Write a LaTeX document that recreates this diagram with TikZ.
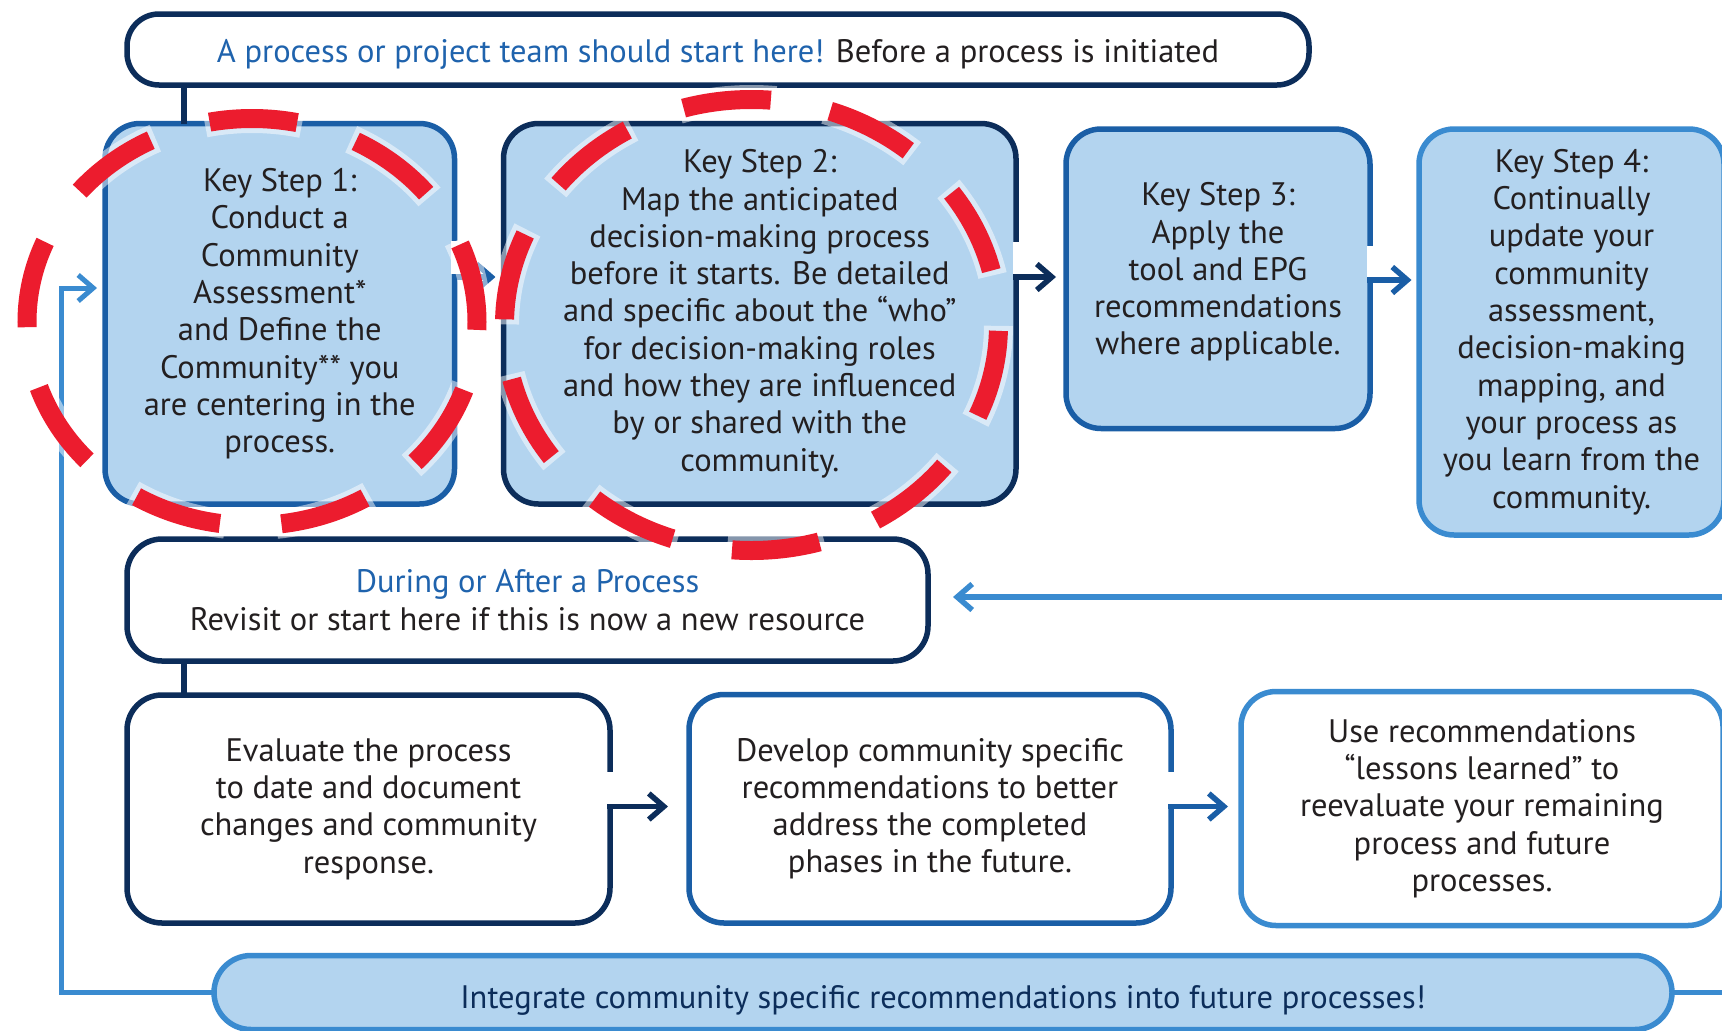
\documentclass[tikz,border=0pt]{standalone}
\usepackage{fontspec}
\setmainfont{PT Sans}
\usetikzlibrary{arrows.meta,calc}
\definecolor{navy}{HTML}{0C2D5A}
\definecolor{midblue}{HTML}{1A5EA6}
\definecolor{ltblue}{HTML}{3A8BD0}
\definecolor{fillblue}{HTML}{B3D4EF}
\definecolor{txtblue}{HTML}{1F63AD}
\definecolor{redc}{HTML}{EC1C2E}
\definecolor{txt}{HTML}{231F20}
\tikzset{
  box/.style={draw, line width=5.5pt, outer sep=0pt, rounded corners=35pt, align=center, inner sep=0pt, text=txt, font=\fontsize{32.5}{37.3}\selectfont},
  keybox/.style={box, fill=fillblue},
  plainbox/.style={box, fill=white},
  arr/.style={line width=5.5pt, -{Straight Barb[length=15pt,width=26pt]}, shorten <=-2.75pt},
  gapw/.style={white, line width=7pt},
  link/.style={line width=5.5pt},
  halo/.style={white, opacity=0.5, line width=29pt},
  reddash/.style={redc, line width=19pt},
}
\begin{document}
\begin{tikzpicture}[x=1pt,y=-1pt]
\useasboundingbox (0,0) rectangle (1722,1031);
\clip (0,0) rectangle (1722,1031);
\fill[white] (0,0) rectangle (1722,1031);

% nodes
\node[plainbox, draw=navy, rounded corners=32pt, minimum width=1182pt, minimum height=71pt, text height=26.6pt, text depth=0pt] (top) at (718,49.5)
  {\textcolor{txtblue}{A process or project team should start here!} Before a process is initiated};
\node[keybox, draw=midblue, minimum width=349.5pt, minimum height=380.5pt] (k1) at (279.75,313.75)
  {Key Step 1:\\Conduct a\\Community\\Assessment*\\and Define the\\Community** you\\are centering in the\\process.};
\node[keybox, draw=navy, minimum width=512.5pt, minimum height=380.5pt] (k2) at (759.75,313.75)
  {Key Step 2:\\Map the anticipated\\decision-making process\\before it starts. Be detailed\\and specific about the “who”\\for decision-making roles\\and how they are influenced\\by or shared with the\\community.};
\node[keybox, draw=midblue, minimum width=304pt, minimum height=299.5pt, text depth=20pt] (k3) at (1218,278.75)
  {Key Step 3:\\Apply the\\tool and EPG\\recommendations\\where applicable.};
\node[keybox, draw=ltblue, minimum width=305pt, minimum height=406pt] (k4) at (1571.5,332)
  {Key Step 4:\\Continually\\update your\\community\\assessment,\\decision-making\\mapping, and\\your process as\\you learn from the\\community.};
\node[plainbox, draw=navy, minimum width=801pt, minimum height=122pt] (dur) at (527.5,600)
  {\textcolor{txtblue}{During or After a Process}\\Revisit or start here if this is now a new resource};
\node[plainbox, draw=navy, minimum width=483pt, minimum height=228pt] (ev) at (368.5,809)
  {Evaluate the process\\to date and document\\changes and community\\response.};
\node[plainbox, draw=midblue, minimum width=482pt, minimum height=228.5pt] (dev) at (930,808.75)
  {Develop community specific\\recommendations to better\\address the completed\\phases in the future.};
\node[plainbox, draw=ltblue, minimum width=482pt, minimum height=234pt] (use) at (1482,808.5)
  {Use recommendations\\“lessons learned” to\\reevaluate your remaining\\process and future\\processes.};
\node[keybox, draw=ltblue, rounded corners=37pt, minimum width=1458pt, minimum height=74pt, text=navy, text height=31pt, text depth=0pt] (integ) at (943,992.5)
  {Integrate community specific recommendations into future processes!};

% helper coordinates
\coordinate (vx) at (184,0);
\coordinate (fbx) at (61,0);
\coordinate (redge) at (1735,0);
\coordinate (rowA) at (0,277);
\coordinate (rowB) at (0,280);
\coordinate (rowC) at (0,806.5);
\coordinate (rowD) at (0,597);
\coordinate (rowF) at (0,288);

% vertical links
\draw[link, navy] (top.south -| vx) -- (k1.north -| vx);
\draw[link, navy] (dur.south -| vx) -- (ev.north -| vx);

% border gaps
\draw[gapw] (k1.east |- 0,241) -- (k1.east |- 0,274);
\draw[gapw] (k2.east |- 0,242) -- (k2.east |- 0,274);
\draw[gapw] (k3.east |- 0,246) -- (k3.east |- 0,277);
\draw[gapw] (ev.east |- 0,772) -- (ev.east |- 0,803.5);
\draw[gapw] (dev.east |- 0,772) -- (dev.east |- 0,803.5);

% arrows
\draw[arr, midblue, shorten >=8pt] (k1.east |- rowA) -- (k2.west |- rowA);
\draw[arr, navy, shorten >=10pt] (k2.east |- rowA) -- (k3.west |- rowA);
\draw[arr, midblue, shorten >=7.5pt] (k3.east |- rowB) -- (k4.west |- rowB);
\draw[arr, navy, shorten >=21pt] (ev.east |- rowC) -- (dev.west |- rowC);
\draw[arr, midblue, shorten >=13pt] (dev.east |- rowC) -- (use.west |- rowC);
\draw[arr, ltblue, shorten <=0pt, shorten >=25pt] (redge |- rowD) -- (dur.east |- rowD);
\draw[arr, ltblue, line width=5pt, shorten <=0pt, shorten >=8pt] (integ.west) -| (fbx |- rowF) -- (k1.west |- rowF);
\draw[link, ltblue, line width=5pt] (integ.east) -- (integ.east -| redge);

% red dashed circles
\draw[halo, dash pattern=on 98pt off 51.7pt, dash phase=13pt] (252,322) ellipse [x radius=225pt, y radius=203.5pt];
\draw[reddash, dash pattern=on 88pt off 61.7pt, dash phase=8pt] (252,322) ellipse [x radius=225pt, y radius=203.5pt];
\draw[halo, dash pattern=on 98pt off 50.5pt, dash phase=98.5pt] (751.5,325) ellipse [x radius=247pt, y radius=225.5pt];
\draw[reddash, dash pattern=on 88pt off 60.5pt, dash phase=93.5pt] (751.5,325) ellipse [x radius=247pt, y radius=225.5pt];
\end{tikzpicture}
\end{document}
